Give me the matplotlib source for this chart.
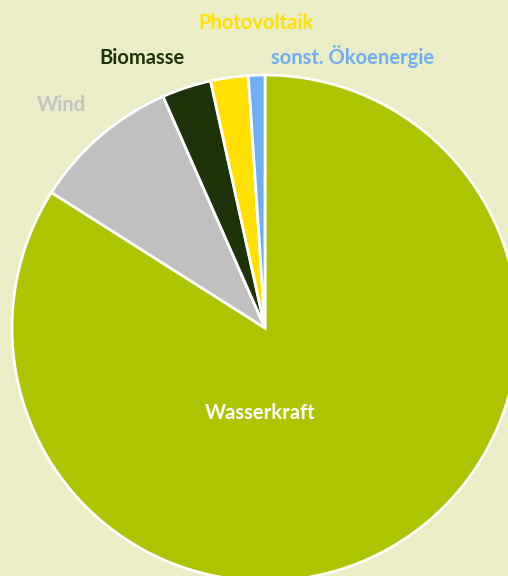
import matplotlib.pyplot as plt

# Anteile (%) in der Reihenfolge ab 12 Uhr im Uhrzeigersinn
sources = ["Wasserkraft", "Wind", "Biomasse", "Photovoltaik", "sonst. Ökoenergie"]
shares = [84.0, 9.4, 3.15, 2.4, 1.05]
colors = ["#afc400", "#c0c0c0", "#1e3309", "#ffe000", "#6eaef5"]
label_colors = ["#ffffff", "#c4c4c4", "#1e3309", "#ffe000", "#6eaef5"]

# label positions in pixels (x, y from top)
label_pos = [(260, 413), (61, 105), (142, 58), (256, 23), (353, 57)]

W, H = 508, 576
cx, cy, r = 265, 328, 253

fig = plt.figure(figsize=(W / 100, H / 100), dpi=100)
fig.patch.set_facecolor("#ebedc7")
ax = fig.add_axes([0, 0, 1, 1])
ax.set_facecolor("#ebedc7")

ax.pie(shares, colors=colors, startangle=90, counterclock=False,
       wedgeprops=dict(edgecolor="white", linewidth=2.0))

ax.set_xlim(-cx / r, (W - cx) / r)
ax.set_ylim((cy - H) / r, cy / r)
ax.set_aspect("auto")
ax.axis("off")

for name, col, (px, py) in zip(sources, label_colors, label_pos):
    ax.text((px - cx) / r, (cy - py) / r, name, color=col, fontsize=14.5,
            fontweight="bold", family="Lato", ha="center", va="center")

fig.savefig("out.png", dpi=100, facecolor=fig.get_facecolor())
